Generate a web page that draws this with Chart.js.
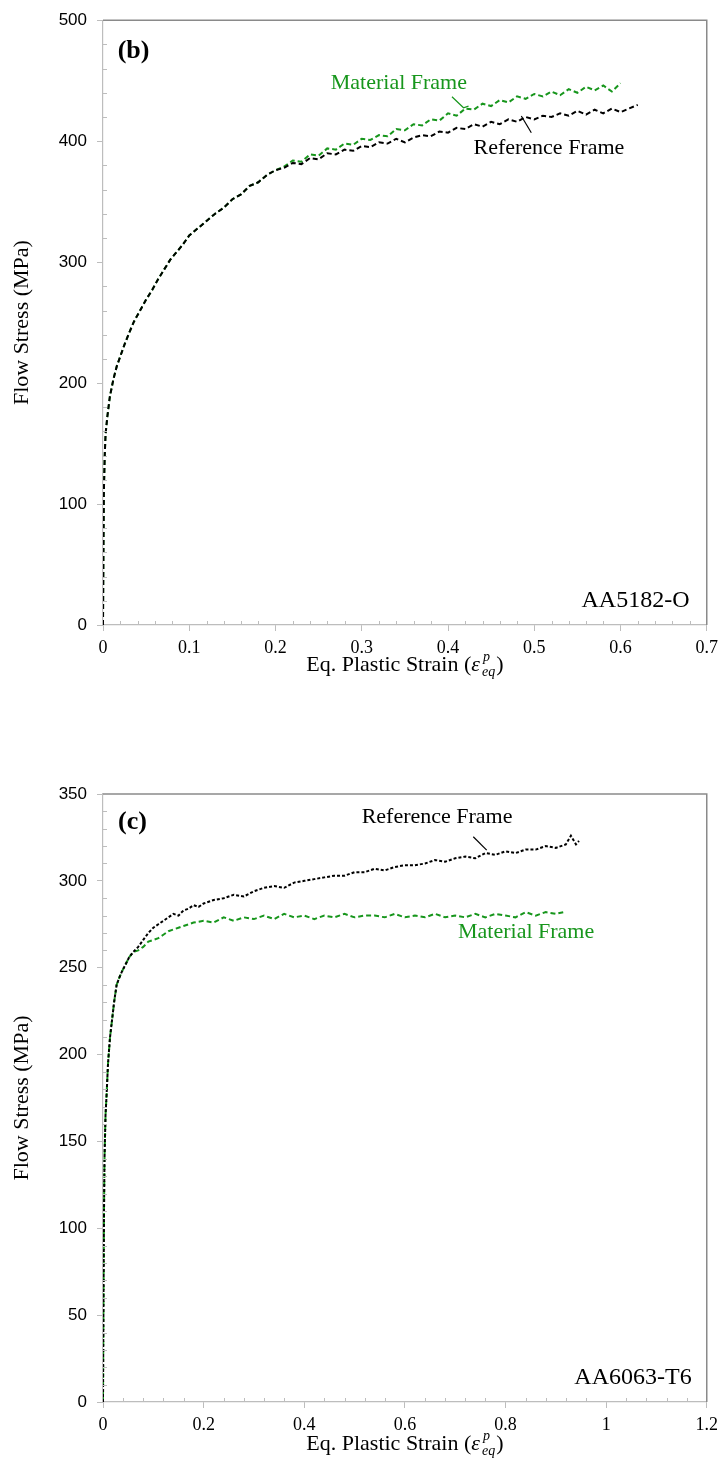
<!DOCTYPE html>
<html>
<head>
<meta charset="utf-8">
<script src="https://cdn.jsdelivr.net/npm/chart.js@4.4.1/dist/chart.umd.min.js"></script>
<style>
html, body { margin: 0; padding: 0; background: #fff; }
#wrap { position: relative; width: 724px; height: 1472px; }
canvas { position: absolute; left: 0; }
</style>
</head>
<body>
<div id="wrap">
  <canvas id="chartB" width="724" height="720" style="top:0"></canvas>
  <canvas id="chartC" width="724" height="752" style="top:720px"></canvas>
</div>
<script>
// (b) AA5182-O : both curves follow the same path up to ~0.2
var bEarlyStrain = [0, 0.0005, 0.001, 0.002, 0.003, 0.005, 0.008, 0.012, 0.016, 0.02, 0.025, 0.03, 0.036, 0.043, 0.05, 0.057, 0.064, 0.071, 0.078, 0.085, 0.092, 0.1, 0.11, 0.12, 0.13, 0.14, 0.15, 0.16, 0.17, 0.18, 0.19, 0.2];
var bEarlyStress = [0, 60, 110, 140, 158, 172, 189, 203, 214, 222, 232, 241, 251, 260, 269, 277, 286, 294, 302, 308, 314, 322, 328, 334, 340, 345, 352, 356, 363, 366, 372, 376];

var bRefStrain = [0.21, 0.22, 0.23, 0.24, 0.25, 0.26, 0.27, 0.28, 0.29, 0.30, 0.31, 0.32, 0.33, 0.34, 0.35, 0.36, 0.37, 0.38, 0.39, 0.40, 0.41, 0.42, 0.43, 0.44, 0.45, 0.46, 0.47, 0.48, 0.49, 0.50, 0.51, 0.52, 0.53, 0.54, 0.55, 0.56, 0.57, 0.58, 0.59, 0.60, 0.61, 0.62];
var bRefStress = [378, 382, 381, 386, 385, 390, 389, 393, 392, 396, 395, 399, 398, 402, 399, 403, 405, 404, 408, 407, 411, 410, 414, 412, 416, 414, 418, 416, 420, 418, 421, 420, 423, 421, 425, 422, 426, 423, 427, 424, 427, 430];

var bMatStrain = [0.21, 0.22, 0.23, 0.24, 0.25, 0.26, 0.27, 0.28, 0.29, 0.30, 0.31, 0.32, 0.33, 0.34, 0.35, 0.36, 0.37, 0.38, 0.39, 0.40, 0.41, 0.42, 0.43, 0.44, 0.45, 0.46, 0.47, 0.48, 0.49, 0.50, 0.51, 0.52, 0.53, 0.54, 0.55, 0.56, 0.57, 0.58, 0.59, 0.60];
var bMatStress = [379, 384, 383, 389, 388, 394, 393, 398, 397, 402, 401, 405, 404, 410, 409, 414, 413, 418, 417, 423, 421, 427, 426, 431, 429, 434, 432, 437, 435, 439, 437, 441, 438, 443, 440, 445, 442, 446, 441, 448];

// (c) AA6063-T6
var cEarlyStrain = [0, 0.001, 0.002, 0.003, 0.005, 0.007, 0.01, 0.014, 0.018, 0.022, 0.027, 0.032, 0.038, 0.045, 0.052, 0.06];
var cEarlyStress = [0, 60, 110, 140, 165, 176, 195, 210, 220, 230, 240, 244, 248, 252, 256, 259];

var cRefStrain = [0.07, 0.08, 0.09, 0.10, 0.11, 0.12, 0.13, 0.14, 0.15, 0.16, 0.17, 0.18, 0.19, 0.20, 0.22, 0.24, 0.26, 0.28, 0.30, 0.32, 0.34, 0.36, 0.38, 0.40, 0.42, 0.44, 0.46, 0.48, 0.50, 0.52, 0.54, 0.56, 0.58, 0.60, 0.62, 0.64, 0.66, 0.68, 0.70, 0.72, 0.74, 0.76, 0.78, 0.80, 0.82, 0.84, 0.86, 0.88, 0.90, 0.92, 0.93, 0.94, 0.946];
var cRefStress = [262, 266, 270, 273, 275, 277, 279, 281, 280, 283, 284, 286, 285, 287, 289, 290, 292, 291, 294, 296, 297, 296, 299, 300, 301, 302, 303, 303, 305, 305, 307, 306, 308, 309, 309, 310, 312, 311, 313, 314, 313, 316, 315, 317, 316, 318, 318, 320, 319, 321, 326, 321, 323];

var cMatStrain = [0.07, 0.08, 0.09, 0.10, 0.11, 0.12, 0.13, 0.14, 0.15, 0.16, 0.18, 0.20, 0.22, 0.24, 0.26, 0.28, 0.30, 0.32, 0.34, 0.36, 0.38, 0.40, 0.42, 0.44, 0.46, 0.48, 0.50, 0.52, 0.54, 0.56, 0.58, 0.60, 0.62, 0.64, 0.66, 0.68, 0.70, 0.72, 0.74, 0.76, 0.78, 0.80, 0.82, 0.84, 0.86, 0.88, 0.90, 0.916];
var cMatStress = [260, 262, 265, 266, 267, 269, 271, 272, 273, 274, 276, 277, 276, 279, 277, 279, 278, 280, 278, 281, 279, 280, 278, 280, 279, 281, 279, 280, 280, 279, 281, 279, 280, 279, 281, 279, 280, 279, 281, 279, 281, 280, 279, 282, 280, 282, 281, 282];

var GREEN = '#17961c';
var SERIF = "'Liberation Serif', 'Times New Roman', serif";
var SANS = "'Liberation Sans', Arial, sans-serif";

function toPoints(xs, ys) {
    var out = [];
    for (var i = 0; i < xs.length; i++) out.push({ x: xs[i], y: ys[i] });
    return out;
}

// border, minor ticks, x title with super/subscript, text notes
var frameDecor = {
    id: 'frameDecor',
    afterDatasetsDraw: function(chart, args, o) {
        var ctx = chart.ctx, a = chart.chartArea;
        var xs = chart.scales.x, ys = chart.scales.y;
        ctx.save();

        ctx.strokeStyle = '#8a8a8a';
        ctx.lineWidth = 1.5;
        ctx.beginPath();
        ctx.moveTo(a.left, a.top);
        ctx.lineTo(a.right, a.top);
        ctx.lineTo(a.right, a.bottom);
        ctx.stroke();

        ctx.strokeStyle = '#bdbdbd';
        ctx.lineWidth = 1;
        ctx.beginPath();
        var i, p;
        for (i = 1; i * o.yMinor < ys.max - 1e-9; i++) {
            if (i % o.yRatio === 0) continue;
            p = Math.round(ys.getPixelForValue(i * o.yMinor)) + 0.5;
            ctx.moveTo(a.left, p); ctx.lineTo(a.left + 4, p);
        }
        for (i = 1; i * o.xMinor < xs.max - 1e-9; i++) {
            if (i % o.xRatio === 0) continue;
            p = Math.round(xs.getPixelForValue(i * o.xMinor)) + 0.5;
            ctx.moveTo(p, a.bottom); ctx.lineTo(p, a.bottom - 4);
        }
        ctx.stroke();

        // x title: Eq. Plastic Strain (ε^p_eq)
        var main = 'Eq. Plastic Strain (';
        ctx.fillStyle = '#000';
        ctx.textBaseline = 'alphabetic';
        ctx.textAlign = 'left';
        ctx.font = '22px ' + SERIF;
        var w1 = ctx.measureText(main).width;
        ctx.font = 'italic 22px ' + SERIF;
        var we = ctx.measureText('\u03B5').width;
        ctx.font = 'italic 14px ' + SERIF;
        var ws = Math.max(ctx.measureText('p').width, ctx.measureText('eq').width);
        ctx.font = '22px ' + SERIF;
        var wc = ctx.measureText(')').width;
        var total = w1 + we + 2 + ws + 1 + wc;
        var tx = (a.left + a.right) / 2 - total / 2;
        var ty = o.titleY;
        ctx.fillText(main, tx, ty);
        tx += w1;
        ctx.font = 'italic 22px ' + SERIF;
        ctx.fillText('\u03B5', tx, ty);
        tx += we + 2;
        ctx.font = 'italic 14px ' + SERIF;
        ctx.fillText('p', tx + 1, ty - 10);
        ctx.fillText('eq', tx, ty + 5);
        tx += ws + 1;
        ctx.font = '22px ' + SERIF;
        ctx.fillText(')', tx, ty);

        o.notes.forEach(function(n) {
            ctx.font = n.font;
            ctx.fillStyle = n.color;
            ctx.textAlign = n.align;
            ctx.textBaseline = 'middle';
            ctx.fillText(n.text, xs.getPixelForValue(n.x), ys.getPixelForValue(n.y));
        });

        o.leaders.forEach(function(l) {
            ctx.strokeStyle = l.color;
            ctx.lineWidth = 1.2;
            ctx.beginPath();
            l.pts.forEach(function(pt, k) {
                var px = xs.getPixelForValue(pt[0]), py = ys.getPixelForValue(pt[1]);
                if (k === 0) ctx.moveTo(px, py); else ctx.lineTo(px, py);
            });
            ctx.stroke();
        });
        ctx.restore();
    }
};

function makeChart(id, cfg) {
    var ctx = document.getElementById(id).getContext('2d');
    var h = document.getElementById(id).height;
    return new Chart(ctx, {
        type: 'line',
        data: {
            datasets: [{
                label: 'Reference Frame',
                data: toPoints(cfg.refX, cfg.refY),
                borderColor: '#000',
                borderWidth: 2,
                borderDash: cfg.refDash,
                pointRadius: 0,
                tension: 0,
                fill: false
            }, {
                label: 'Material Frame',
                data: toPoints(cfg.matX, cfg.matY),
                borderColor: GREEN,
                borderWidth: 2,
                borderDash: [5, 3],
                pointRadius: 0,
                tension: 0,
                fill: false
            }]
        },
        options: {
            responsive: false,
            animation: false,
            layout: { padding: { top: cfg.plotTop, right: 12, left: 0, bottom: 0 } },
            plugins: {
                legend: { display: false },
                tooltip: { enabled: false },
                frameDecor: {
                    yMinor: cfg.yMinor, yRatio: cfg.yRatio,
                    xMinor: cfg.xMinor, xRatio: cfg.xRatio,
                    titleY: cfg.titleY,
                    notes: cfg.notes,
                    leaders: cfg.leaders
                }
            },
            scales: {
                x: {
                    type: 'linear',
                    min: 0, max: cfg.xMax,
                    ticks: { stepSize: cfg.xStep, color: '#000', padding: 6, maxRotation: 0,
                             font: { family: SERIF, size: 18 },
                             callback: function(v) { return String(Math.round(v * 100) / 100); } },
                    grid: { drawOnChartArea: false, drawTicks: true, tickLength: 6, color: '#bdbdbd' },
                    border: { color: '#bdbdbd', width: 1.2 },
                    afterFit: function(s) { s.height = h - cfg.plotBottom; }
                },
                y: {
                    min: 0, max: cfg.yMax,
                    ticks: { stepSize: cfg.yStep, color: '#000', padding: 10,
                             font: { family: SANS, size: 17 } },
                    grid: { drawOnChartArea: false, drawTicks: true, tickLength: 6, color: '#bdbdbd' },
                    border: { color: '#bdbdbd', width: 1.2 },
                    title: { display: true, text: 'Flow Stress (MPa)', color: '#000',
                             padding: { top: 9, bottom: 0 },
                             font: { family: SERIF, size: 22 } },
                    afterFit: function(s) { s.width = 103; }
                }
            }
        },
        plugins: [frameDecor]
    });
}

makeChart('chartB', {
    refX: bEarlyStrain.concat(bRefStrain), refY: bEarlyStress.concat(bRefStress),
    matX: bEarlyStrain.concat(bMatStrain), matY: bEarlyStress.concat(bMatStress),
    refDash: [5, 3],
    xMax: 0.7, xStep: 0.1, xMinor: 0.02, xRatio: 5,
    yMax: 500, yStep: 100, yMinor: 20, yRatio: 5,
    plotTop: 17, plotBottom: 625, titleY: 671,
    notes: [
        { text: '(b)', x: 0.017, y: 474, color: '#000', align: 'left', font: 'bold 26px ' + SERIF },
        { text: 'Material Frame', x: 0.422, y: 448, color: GREEN, align: 'right', font: '22px ' + SERIF },
        { text: 'Reference Frame', x: 0.517, y: 394, color: '#000', align: 'center', font: '22px ' + SERIF },
        { text: 'AA5182-O', x: 0.68, y: 20, color: '#000', align: 'right', font: '24px ' + SERIF }
    ],
    leaders: [
        { color: GREEN, pts: [[0.4046, 436.7], [0.418, 427.6], [0.4238, 429]] },
        { color: '#000', pts: [[0.485, 420.8], [0.4966, 407]] }
    ]
});

makeChart('chartC', {
    refX: cEarlyStrain.concat(cRefStrain), refY: cEarlyStress.concat(cRefStress),
    matX: cEarlyStrain.concat(cMatStrain), matY: cEarlyStress.concat(cMatStress),
    refDash: [3, 2],
    xMax: 1.2, xStep: 0.2, xMinor: 0.04, xRatio: 5,
    yMax: 350, yStep: 50, yMinor: 10, yRatio: 5,
    plotTop: 74, plotBottom: 682, titleY: 730,
    notes: [
        { text: '(c)', x: 0.03, y: 333.5, color: '#000', align: 'left', font: 'bold 26px ' + SERIF },
        { text: 'Reference Frame', x: 0.664, y: 336.8, color: '#000', align: 'center', font: '22px ' + SERIF },
        { text: 'Material Frame', x: 0.841, y: 270.5, color: GREEN, align: 'center', font: '22px ' + SERIF },
        { text: 'AA6063-T6', x: 1.17, y: 14, color: '#000', align: 'right', font: '24px ' + SERIF }
    ],
    leaders: [
        { color: '#000', pts: [[0.736, 325.4], [0.7626, 317.7]] }
    ]
});
</script>
</body>
</html>
